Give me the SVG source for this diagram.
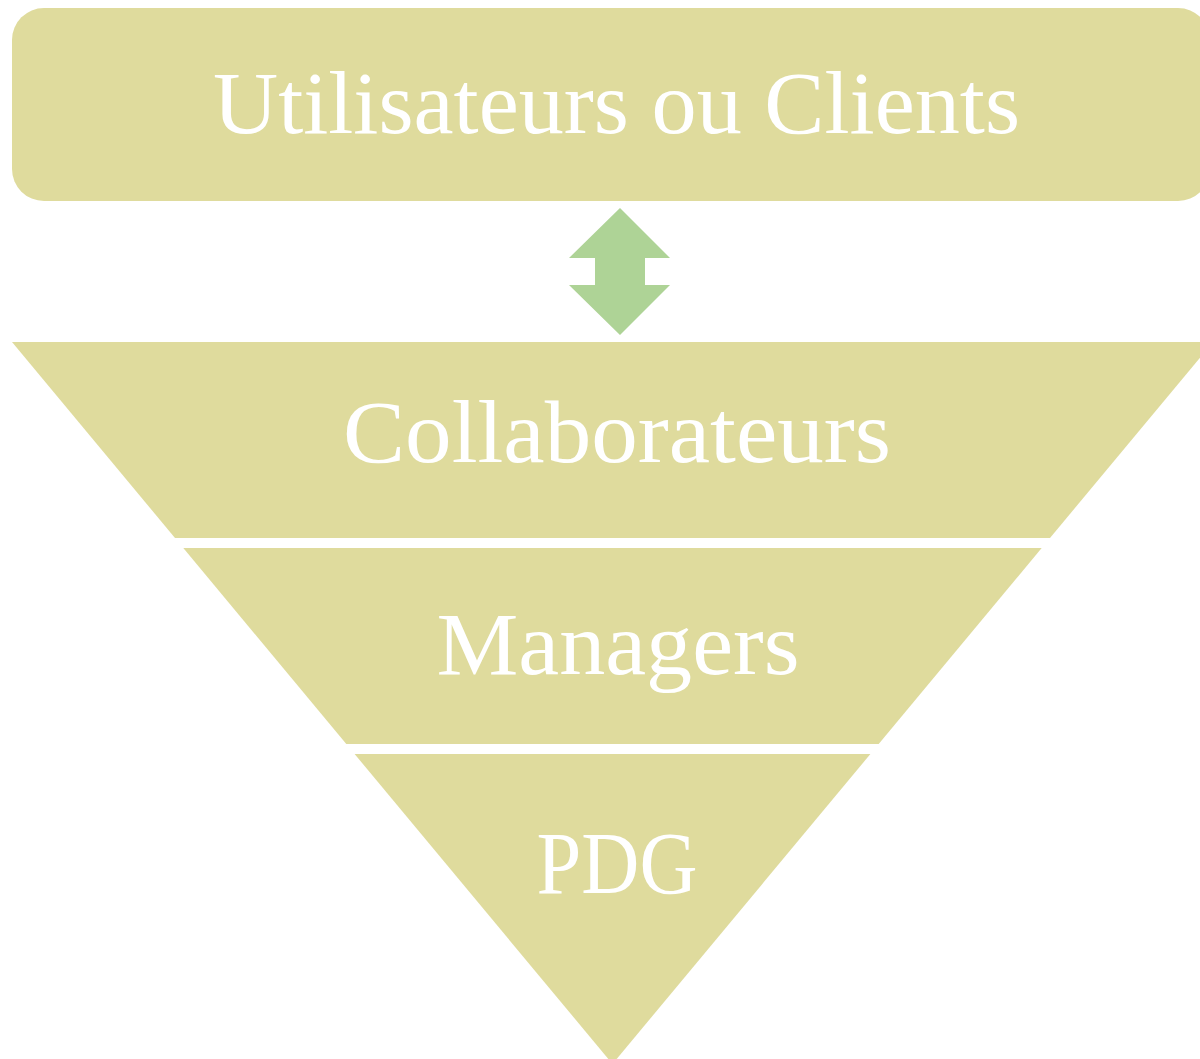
<svg xmlns="http://www.w3.org/2000/svg" width="1200" height="1059" viewBox="0 0 1200 1059">
<style>
.box{fill:#DFDB9D}
.arrow{fill:#AED396}
.lbl{fill:#FFFFFF;font-family:"Liberation Serif","DejaVu Serif",serif;font-size:88px;text-anchor:middle}
</style>
<rect width="1200" height="1059" fill="#FFFFFF"/>
<g id="node-clients">
<rect class="box" x="12" y="8" width="1198" height="193" rx="32" ry="32"/>
<text class="lbl" x="616.5" y="133" textLength="807" lengthAdjust="spacingAndGlyphs">Utilisateurs ou Clients</text>
</g>
<g id="connectors">
<polygon class="arrow" points="620,208 670,258 645,258 645,285 670,285 620,335 569,285 595,285 595,258 569,258"/>
</g>
<g id="node-collaborateurs">
<polygon class="box" points="12,342 1213,342 1050,538 175,538"/>
<text class="lbl" x="617" y="462" textLength="548" lengthAdjust="spacingAndGlyphs">Collaborateurs</text>
</g>
<g id="node-managers">
<polygon class="box" points="183.3,548 1041.7,548 878.7,744 346.3,744"/>
<text class="lbl" x="618" y="674" textLength="363" lengthAdjust="spacingAndGlyphs">Managers</text>
</g>
<g id="node-pdg">
<polygon class="box" points="354.6,754 870.4,754 612.5,1064"/>
<text class="lbl" x="617" y="893" textLength="161" lengthAdjust="spacingAndGlyphs">PDG</text>
</g>
</svg>
